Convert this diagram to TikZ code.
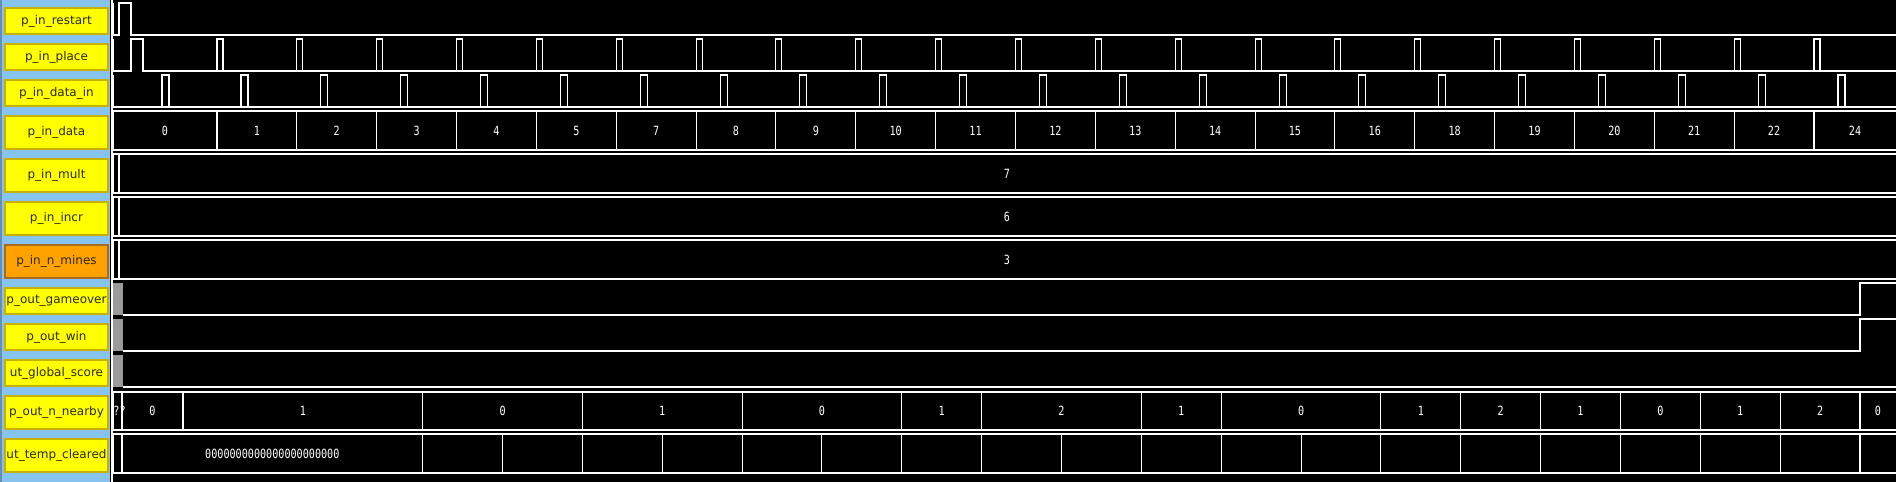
\documentclass[tikz,border=0pt]{standalone}
\usepackage{fontspec}
\setmainfont{DejaVu Sans}
\newfontfamily\wavefont[FakeStretch=0.8]{DejaVu Sans Mono}
\usepackage{xcolor}
\usepackage{tikz}
\usetikzlibrary{calc}
\definecolor{panelblue}{HTML}{86C3EE}
\definecolor{stripblue}{HTML}{6A8CAE}
\definecolor{boxyellow}{HTML}{FFFF00}
\definecolor{edgeyellow}{HTML}{C8B000}
\definecolor{boxorange}{HTML}{FFA200}
\definecolor{edgeorange}{HTML}{A86A1C}
\definecolor{labeltext}{HTML}{2A2A00}
\definecolor{dither}{HTML}{9A9A9A}
\tikzset{
  sigbox/.style={draw=edgeyellow,fill=boxyellow,line width=1.5pt,inner sep=0pt,minimum width=77.25pt,minimum height=19.5pt,text=labeltext,font=\fontsize{9pt}{11pt}\selectfont},
  busbox/.style={sigbox,minimum height=24.75pt},
  wave/.style={draw=white,line width=0.8pt},
  busval/.style={text=white,inner sep=0pt,font=\wavefont\fontsize{9.5pt}{11pt}\selectfont},
}

\begin{document}
\begin{tikzpicture}[x=0.75pt,y=-0.75pt]
\useasboundingbox (0,0) rectangle (1896,482);
\fill[black] (0,0) rectangle (1896,482);

\draw[wave] (113,3) -- (113,35) -- (119,35) -- (119,3) -- (131,3) -- (131,35) -- (1896,35);

\draw[wave] (113,39) -- (113,71) -- (131,71) -- (131,39) -- (143,39) -- (143,71) -- (1896,71);
\foreach \k in {0,...,20}
  \draw[wave] ({217+79.85*\k},71) -- ++(0,-32) -- ++(6,0) -- ++(0,32);

\draw[wave] (113,75) -- (113,107) -- (1896,107);
\draw[wave] (162,107) -- (162,75) -- (169,75) -- (169,107);
\foreach \k in {0,...,20}
  \draw[wave] ({241+79.85*\k},107) -- ++(0,-32) -- ++(7,0) -- ++(0,32);

\draw[wave] (113,111) -- (1896,111) (113,150) -- (1896,150) (113,111) -- (113,150);
\foreach \k in {0,...,20}
  \draw[wave] ({217+79.85*\k},111) -- ++(0,39);
\node[busval] (din-first) at (165,130.5) {0};
\foreach \v [count=\i from 0] in {1,2,3,4,5,7,8,9,10,11,12,13,14,15,16,18,19,20,21,22}
  \node[busval] (din-\i) at ({256.925+79.85*\i},130.5) {\v};
\node[busval] (din-last) at (1855,130.5) {24};

\foreach \top/\v/\nm in {154/7/mult,197/6/incr,240/3/mines}{
  \draw[wave] (113,\top) -- (1896,\top) (113,\top+39) -- (1896,\top+39)
    (113,\top) -- (113,\top+39) (119,\top) -- (119,\top+39);
  \node[busval] (val-\nm) at (1007,\top+19.5) {\v};
}

\fill[dither] (113,283) rectangle (123,315);
\draw[wave] (123,315) -- (1860,315) -- (1860,283) -- (1896,283);
\fill[dither] (113,319) rectangle (123,351);
\draw[wave] (123,351) -- (1860,351) -- (1860,319) -- (1896,319);
\fill[dither] (113,355) rectangle (123,387);
\draw[wave] (123,387) -- (1896,387);

\draw[wave] (113,392) -- (1896,392) (113,430) -- (1896,430) (113,392) -- (113,430);
\node[busval] (near-x) at (119.5,411) {??};
\foreach \a/\b/\v [count=\i] in {122/183/0,183/422.7/1,422.7/582.4/0,582.4/742.1/1,742.1/901.8/0,901.8/981.65/1,981.65/1141.35/2,1141.35/1221.2/1,1221.2/1380.9/0,1380.9/1460.75/1,1460.75/1540.6/2,1540.6/1620.45/1,1620.45/1700.3/0,1700.3/1780.15/1,1780.15/1860/2,1860/1896/0}{
  \draw[wave] (\a,392) -- (\a,430);
  \node[busval] (near-\i) at ({(\a+\b)/2},411) {\v};
}

\draw[wave] (113,434) -- (1896,434) (113,473) -- (1896,473) (113,434) -- (113,473) (122,434) -- (122,473);
\foreach \k in {2,...,20}
  \draw[wave] ({263+79.85*\k},434) -- ++(0,39);
\node[busval] (clr-0) at (272.35,453.5) {0000000000000000000000};

\fill[panelblue] (0,0) rectangle (110,482);
\fill[stripblue] (0,0) rectangle (2,482);
\draw[white,line width=1.5pt] (111.5,0) -- (111.5,482);

\foreach \y/\txt/\nm in {21/p\_in\_restart/restart,57/p\_in\_place/place,93/p\_in\_data\_in/datain,301/p\_out\_gameover/gameover,337/p\_out\_win/win,373/ut\_global\_score/score}
  \node[sigbox] (lbl-\nm) at (56.5,\y) {\txt};
\foreach \y/\txt/\nm in {132.5/p\_in\_data/data,175.5/p\_in\_mult/mult,218.5/p\_in\_incr/incr,412.5/p\_out\_n\_nearby/nearby,455.5/ut\_temp\_cleared/cleared}
  \node[busbox] (lbl-\nm) at (56.5,\y) {\txt};
\node[busbox,draw=edgeorange,fill=boxorange] (lbl-mines) at (56.5,261.5) {p\_in\_n\_mines};
\end{tikzpicture}
\end{document}
